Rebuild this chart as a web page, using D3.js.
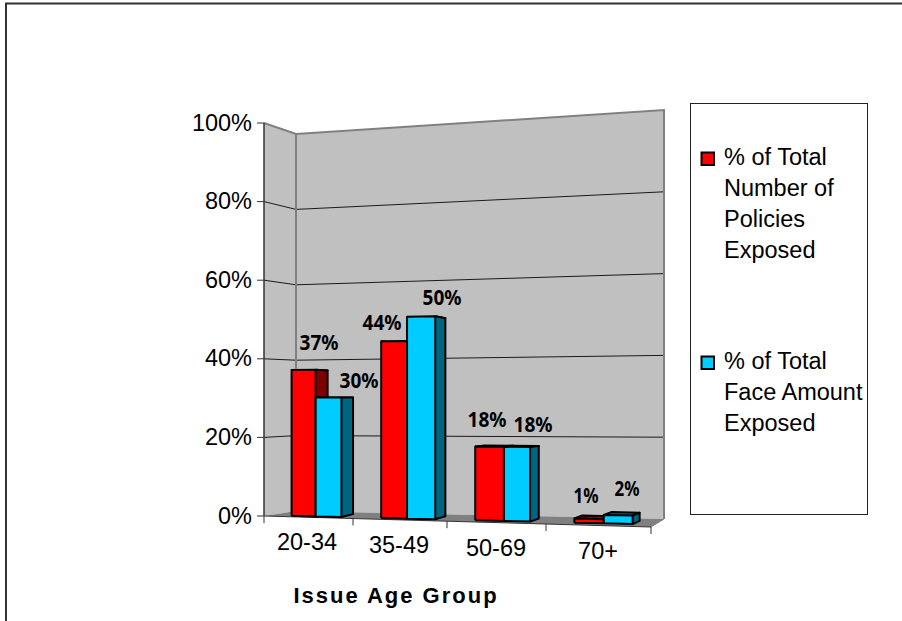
<!DOCTYPE html>
<html>
<head>
<meta charset="utf-8">
<script src="https://cdn.jsdelivr.net/npm/d3@7"></script>
<style>
html,body{margin:0;padding:0;background:#fff;}
svg{display:block;}
text{font-family:"Liberation Sans",Arial,sans-serif;fill:#000;}
</style>
</head>
<body>
<svg id="chart" width="902" height="621"></svg>
<script>
const categories = ["20-34", "35-49", "50-69", "70+"];
const policiesShare = [37, 44, 18, 1];
const faceAmountShare = [30, 50, 18, 2];
const valueTicks = [0, 20, 40, 60, 80, 100];
const seriesNames = [
  ["% of Total", "Number of", "Policies", "Exposed"],
  ["% of Total", "Face Amount", "Exposed"]
];
const seriesFills = [
  {front: "#ff0000", side: "#800000"},
  {front: "#00ccff", side: "#006680"}
];

const svg = d3.select("#chart");

// Category positions along the front edge of the floor; spacing widens toward the viewer.
const xFront = d3.scaleLinear().domain([0, 1, 2, 3, 4]).range([264, 353, 447, 546, 651]);

// Baseline and full-scale height of the wall planes, as functions of x.
const frontBase = d3.scaleLinear().domain([264, 651]).range([516, 527]);
const barBase = d3.scaleLinear().domain([264, 651]).range([515.2, 524.5]);
const barFull = d3.scaleLinear().domain([264, 651]).range([392, 424]);
const leftWall = d3.scaleLinear().domain([0, 100]).range([516, 123]);
const backLeft = d3.scaleLinear().domain([0, 100]).range([511, 134]);
const backRight = d3.scaleLinear().domain([0, 100]).range([519, 110]);
const wallX = {front: 264, back: 296, right: 664};

const barY = (x, v) => barBase(x) - barFull(x) * v / 100;
// Depth projection of a bar corner: receding points drift toward the horizon.
const depthX = x => 12 - (x - 316) * 5 / 317;
const backPt = (x, y) => [x + depthX(x), y - (y - 400) * 0.025];

const line = d3.line();
const polyline = (pts, o) => svg.append("path").attr("d", line(pts))
  .attr("fill", o.fill || "none").attr("stroke", o.stroke || "none")
  .attr("stroke-width", o.width || 1).attr("stroke-linejoin", o.join || "miter");

// Left wall, back wall, floor
polyline([[wallX.front, leftWall(100)], [wallX.back, backLeft(100)], [wallX.back, backLeft(0)], [wallX.front, leftWall(0)]], {fill: "#c0c0c0"});
polyline([[wallX.back, backLeft(100)], [wallX.right, backRight(100)], [wallX.right, backRight(0)], [wallX.back, backLeft(0)]], {fill: "#c0c0c0"});
polyline([[wallX.front, frontBase(264)], [wallX.back, backLeft(0)], [wallX.right, backRight(0)], [651, frontBase(651)]], {fill: "#808080"});

// Gridlines across both walls
valueTicks.filter(v => v > 0 && v < 100).forEach(v => {
  polyline([[wallX.front, leftWall(v)], [wallX.back, backLeft(v)], [wallX.right, backRight(v)]], {stroke: "#1a1a1a", width: 1});
});

// Wall outlines
polyline([[wallX.front, leftWall(100)], [wallX.back, backLeft(100)], [wallX.right, backRight(100)], [wallX.right, backRight(0)]], {stroke: "#808080", width: 2});
polyline([[wallX.back, backLeft(100)], [wallX.back, backLeft(0)]], {stroke: "#808080", width: 2});
polyline([[wallX.right, backRight(0)], [651, frontBase(651)]], {stroke: "#808080", width: 1});

// Value axis
polyline([[wallX.front, leftWall(100)], [wallX.front, leftWall(0)]], {stroke: "#333", width: 1.5});
valueTicks.forEach(v => {
  polyline([[wallX.front - 7, leftWall(v)], [wallX.front, leftWall(v)]], {stroke: "#333", width: 1});
  svg.append("text").attr("x", 252).attr("y", leftWall(v) + 7.5)
    .attr("text-anchor", "end").attr("font-size", 23.5).text(v + "%");
});

// Category axis
polyline([[264, frontBase(264)], [651, frontBase(651)]], {stroke: "#333", width: 1});
d3.range(5).forEach(i => {
  const x = xFront(i);
  polyline([[x, frontBase(x)], [x, frontBase(x) + 7]], {stroke: "#333", width: 1});
});
const labelX = [307, 399, 496, 598];
categories.forEach((c, i) => {
  svg.append("text").attr("x", labelX[i]).attr("y", 550 + i * 3)
    .attr("text-anchor", "middle").attr("font-size", 23.5).text(c);
});

// Bars: each is a front face, a top face and a right side face.
// Left, middle and right edge of each pair, as a fraction of its category slot.
const barEdges = [
  [0.31, 0.58, 0.87],
  [0.30, 0.575, 0.875],
  [0.285, 0.575, 0.84],
  [0.27, 0.55, 0.825]
];
[policiesShare, faceAmountShare].forEach((vals, s) => {
  vals.forEach((v, i) => {
    const x0 = xFront(i + barEdges[i][s]), x1 = xFront(i + barEdges[i][s + 1]);
    const bl = [x0, barY(x0, 0)], br = [x1, barY(x1, 0)];
    const tl = [x0, barY(x0, v)], tr = [x1, barY(x1, v)];
    const bbr = backPt(...br), btr = backPt(...tr), btl = backPt(...tl);
    const style = {stroke: "#000", width: 2, join: "round"};
    polyline([tl, btl, btr, tr], {...style, fill: seriesFills[s].side});
    polyline([br, bbr, btr, tr], {...style, fill: seriesFills[s].side});
    polyline([bl, br, tr, tl, bl], {...style, fill: seriesFills[s].front});
  });
});

// Value labels, condensed to the width of the chart's bold data-label face
const valueLabels = [
  {v: policiesShare[0], x: 319, y: 350}, {v: faceAmountShare[0], x: 359, y: 388},
  {v: policiesShare[1], x: 382, y: 330}, {v: faceAmountShare[1], x: 442, y: 305},
  {v: policiesShare[2], x: 487, y: 427}, {v: faceAmountShare[2], x: 533, y: 432},
  {v: policiesShare[3], x: 586, y: 503}, {v: faceAmountShare[3], x: 627, y: 496}
];
valueLabels.forEach(d => {
  const label = d.v + "%";
  svg.append("text").attr("x", d.x).attr("y", d.y).attr("text-anchor", "middle")
    .attr("font-size", 22).attr("font-weight", 700)
    .attr("textLength", label.length === 3 ? 39 : 25).attr("lengthAdjust", "spacingAndGlyphs")
    .style("font-family", '"Noto Sans",sans-serif').text(label);
});

// Axis title
svg.append("text").attr("x", 396).attr("y", 603).attr("text-anchor", "middle")
  .attr("font-size", 22).attr("font-weight", 700).attr("letter-spacing", 2).text("Issue Age Group");

// Legend
svg.append("rect").attr("x", 690.5).attr("y", 103.5).attr("width", 177).attr("height", 411)
  .attr("fill", "#fff").attr("stroke", "#222").attr("stroke-width", 1);
const legendBaseline = [165, 369];
seriesNames.forEach((lines, s) => {
  svg.append("rect").attr("x", 701.5).attr("y", legendBaseline[s] - 12.5).attr("width", 12.5).attr("height", 12.5)
    .attr("fill", seriesFills[s].front).attr("stroke", "#000").attr("stroke-width", 2);
  lines.forEach((t, j) => {
    svg.append("text").attr("x", 724).attr("y", legendBaseline[s] + j * 31)
      .attr("font-size", 23.5).text(t);
  });
});

// Outer chart frame: left and top edges run off the page
polyline([[6, 621], [6, 3.5], [902, 3.5]], {stroke: "#333", width: 2});
</script>
</body>
</html>
